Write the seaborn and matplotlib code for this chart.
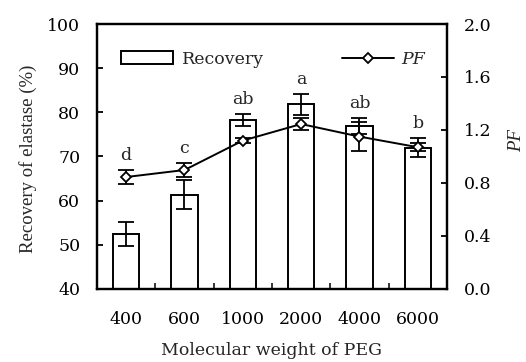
import matplotlib
matplotlib.use("Agg")
import matplotlib.pyplot as plt
import seaborn as sns
import numpy as np
import pandas as pd
from matplotlib.lines import Line2D
from matplotlib.patches import Patch
from matplotlib.ticker import MultipleLocator, FixedLocator, NullFormatter, FormatStrFormatter

categories = ["400", "600", "1000", "2000", "4000", "6000"]
recovery = [52.4, 61.3, 78.2, 81.8, 76.9, 72.0]
recovery_err = [2.7, 3.3, 1.4, 2.4, 1.8, 2.2]
pf = [0.845, 0.898, 1.12, 1.245, 1.15, 1.07]
pf_err = [0.053, 0.055, 0.02, 0.045, 0.11, 0.03]
letters = ["d", "c", "ab", "a", "ab", "b"]

sns.set_theme(style="white")
plt.rcParams['font.family'] = ['DejaVu Serif', 'Liberation Serif']

FS = 12.5
fig = plt.figure(figsize=(5.26, 3.62), dpi=100)
ax = fig.add_axes([0.1844, 0.2017, 0.8498 - 0.1844, 0.9337 - 0.2017])

df = pd.DataFrame({"mw": categories, "rec": recovery})
sns.barplot(data=df, x="mw", y="rec", ax=ax, color="white", edgecolor="black",
            linewidth=1.4, width=0.45, errorbar=None)
xpos = np.arange(len(categories))
ax.errorbar(xpos, recovery, yerr=recovery_err, fmt="none", ecolor="black",
            elinewidth=1.3, capsize=6, capthick=1.3, zorder=3)

ax.set_ylim(40, 100)
ax.set_xlim(-0.5, len(categories) - 0.5)
ax.yaxis.set_major_locator(MultipleLocator(10))
ax.set_ylabel("Recovery of elastase (%)", fontsize=13.5, family="Liberation Serif")
ax.yaxis.set_label_coords(-0.17, 0.49)
ax.set_xlabel("Molecular weight of PEG", fontsize=FS)
ax.xaxis.set_label_coords(0.5, -0.20)

ax2 = ax.twinx()
ax2.set_position(ax.get_position())
sns.lineplot(x=xpos, y=pf, ax=ax2, color="black", linewidth=1.4, marker="D",
             markersize=5.5, markerfacecolor="white", markeredgecolor="black",
             markeredgewidth=1.3, zorder=5)
ax2.errorbar(xpos, pf, yerr=pf_err, fmt="none", ecolor="black",
             elinewidth=1.3, capsize=6, capthick=1.3, zorder=4)
ax2.set_ylim(0, 2.0)
ax2.yaxis.set_major_locator(MultipleLocator(0.4))
ax2.yaxis.set_major_formatter(FormatStrFormatter("%.1f"))
ax2.set_ylabel("PF", fontsize=13.5, fontstyle="italic", family="Liberation Serif")
ax2.yaxis.set_label_coords(1.174, 0.56)

# letters above the highest error bar of each group
for i, lab in enumerate(letters):
    top_rec = recovery[i] + recovery_err[i]
    top_pf = 40 + 30 * (pf[i] + pf_err[i])
    ax2.text(xpos[i], (max(top_rec, top_pf) + 1.4 - 40) / 30, lab, ha="center",
             va="bottom", fontsize=FS, zorder=6)

for a in (ax, ax2):
    for s in a.spines.values():
        s.set_linewidth(1.6)
        s.set_color("black")

ax.tick_params(axis="y", direction="in", length=4, width=1.3, labelsize=FS,
               left=True, pad=12, colors="black")
ax2.tick_params(axis="y", direction="in", length=4, width=1.3, labelsize=FS,
                right=True, pad=12, colors="black")
ax.tick_params(axis="x", which="major", length=0, labelsize=FS, pad=16,
               colors="black")
ax.xaxis.set_minor_locator(FixedLocator(np.arange(-0.5, len(categories), 1.0)))
ax.xaxis.set_minor_formatter(NullFormatter())
ax.tick_params(axis="x", which="minor", direction="in", length=4, width=1.3,
               bottom=True)

handles = [Patch(facecolor="white", edgecolor="black", linewidth=1.4, label="Recovery")]
leg1 = ax2.legend(handles=handles, loc="upper left", bbox_to_anchor=(0.035, 0.945),
                  frameon=False, fontsize=FS, handlelength=3.0, handleheight=0.8,
                  handletextpad=0.5, borderaxespad=0.3)
ax2.add_artist(leg1)
h2 = [Line2D([0], [0], color="black", linewidth=1.4, marker="D", markersize=5,
             markerfacecolor="white", markeredgecolor="black", markeredgewidth=1.3)]
ax2.legend(handles=h2, labels=["PF"], loc="upper left", bbox_to_anchor=(0.665, 0.945),
           frameon=False, handlelength=3.0, handletextpad=0.4, borderaxespad=0.3,
           prop={"style": "italic", "size": FS})

fig.savefig("out.png", dpi=100)
